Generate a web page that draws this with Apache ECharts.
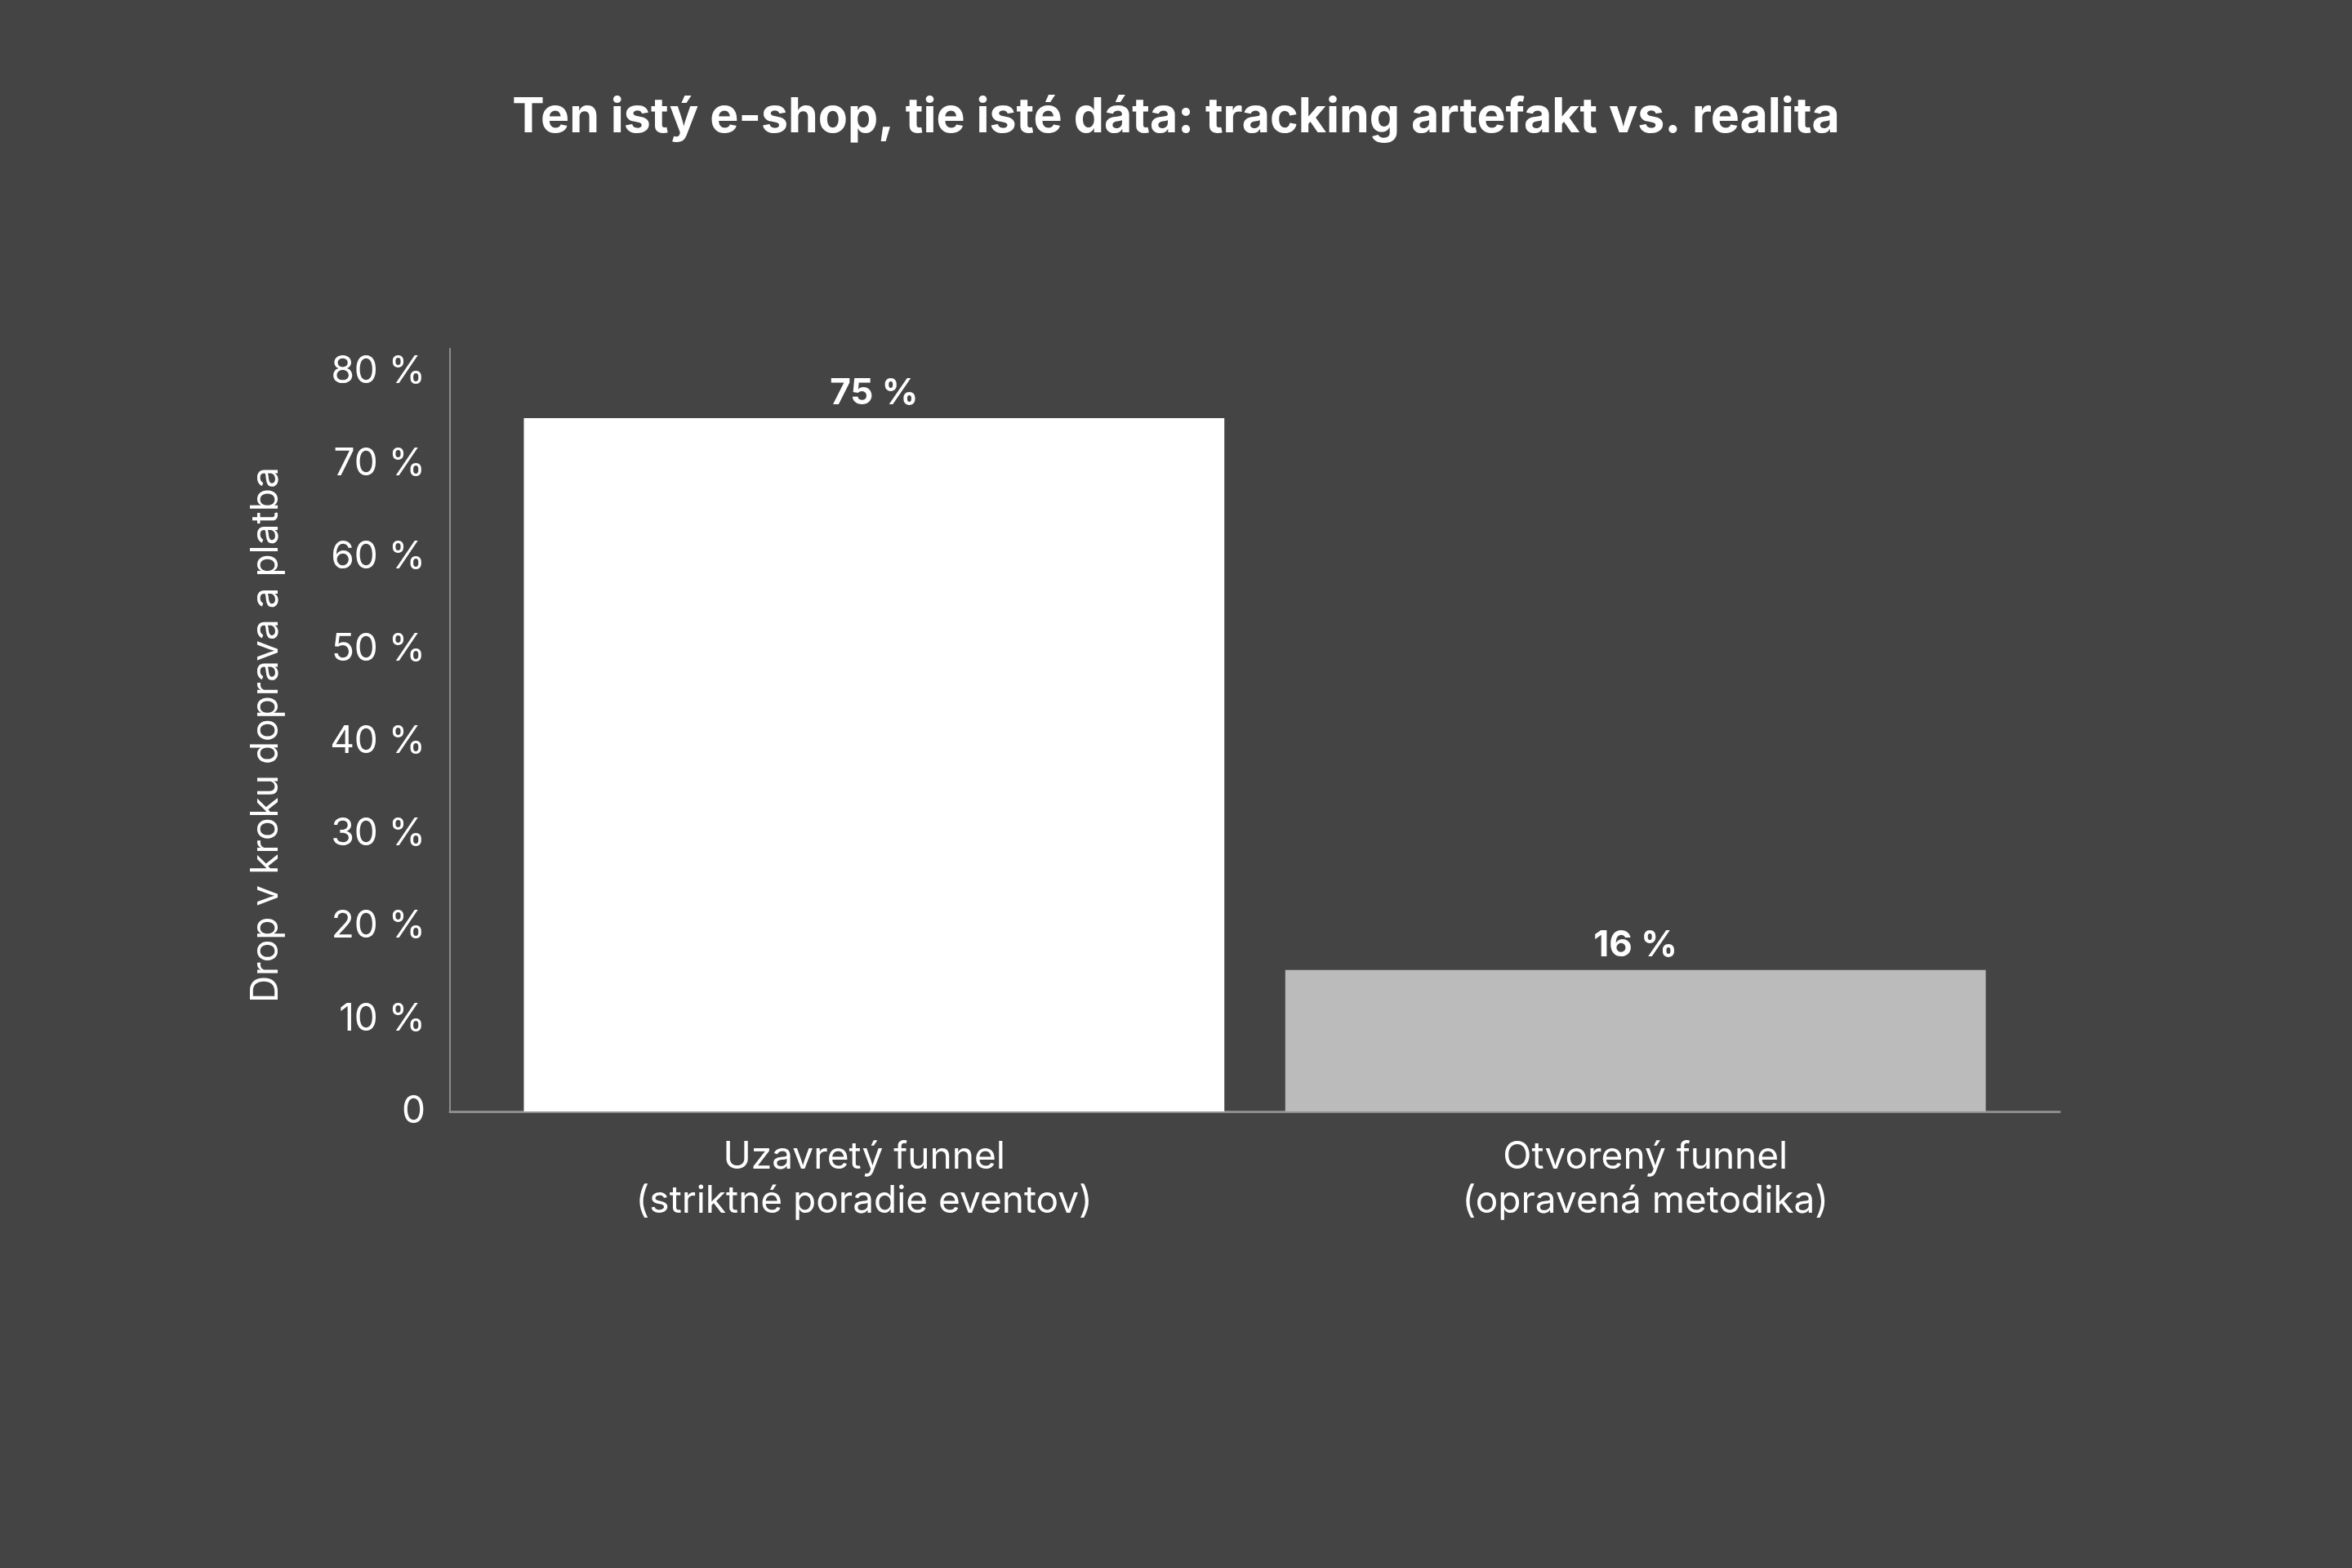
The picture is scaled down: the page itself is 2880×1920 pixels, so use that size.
<!DOCTYPE html>
<html>
<head>
<meta charset="utf-8">
<script src="https://cdn.jsdelivr.net/npm/echarts@6/dist/echarts.min.js"></script>
<style>
html,body{margin:0;padding:0;background:#444444;}
#c{width:2880px;height:1920px;}
</style>
</head>
<body>
<div id="c"></div>
<script>
const titleText = 'Ten istý e-shop, tie isté dáta: tracking artefakt vs. realita';
const yAxisName = 'Drop v kroku doprava a platba';
const categories = ['Uzavretý funnel\n(striktné poradie eventov)', 'Otvorený funnel\n(opravená metodika)'];
const values = [75, 15.3];
const valueLabels = ['75 %', '16 %'];
const barColors = ['#ffffff', '#bbbbbb'];
const yMin = 0, yMax = 82.5, yStep = 10;
const xMin = -0.557, xMax = 1.557;

const FONT = 'Inter, "Noto Sans", sans-serif';
const labelSpread = 0.013;
const chart = echarts.init(document.getElementById('c'), null, {renderer: 'canvas'});
chart.setOption({
  backgroundColor: '#444444',
  animation: false,
  title: {
    text: titleText,
    left: 'center',
    top: 110,
    textStyle: {color: '#ffffff', fontSize: 59, fontWeight: 'bold', fontFamily: FONT}
  },
  grid: {left: 551, right: 358, top: 427, bottom: 559, containLabel: false},
  xAxis: {
    type: 'value',
    min: xMin,
    max: xMax,
    axisLine: {show: true, onZero: false, lineStyle: {color: '#8c8c8c', width: 3}},
    axisTick: {show: false},
    splitLine: {show: false},
    axisLabel: {
      customValues: categories.map((c, i) => i + (i === 0 ? -labelSpread : labelSpread)),
      color: '#ffffff',
      fontSize: 46,
      lineHeight: 54,
      fontFamily: FONT,
      margin: 29,
      formatter: v => categories[Math.round(v)] || ''
    }
  },
  yAxis: {
    type: 'value',
    min: yMin,
    max: yMax,
    interval: yStep,
    name: yAxisName,
    nameLocation: 'middle',
    nameGap: 202,
    nameTextStyle: {color: '#ffffff', fontSize: 46, fontFamily: FONT, padding: [0, 12, 0, 0]},
    axisLine: {show: true, onZero: false, lineStyle: {color: '#8c8c8c', width: 2}},
    axisTick: {show: false},
    splitLine: {show: false},
    axisLabel: {
      color: '#ffffff',
      fontSize: 46,
      fontFamily: FONT,
      margin: 30,
      formatter: v => (Math.abs(v % yStep) > 1e-9) ? '' : (v === 0 ? '0' : v + ' %')
    }
  },
  series: [{
    type: 'bar',
    barWidth: '92%',
    data: values.map((v, i) => ({value: [i, v], itemStyle: {color: barColors[i]}})),
    label: {
      show: true,
      position: 'top',
      distance: 8,
      color: '#ffffff',
      fontSize: 44,
      fontWeight: 'bold',
      fontFamily: FONT,
      formatter: p => valueLabels[p.dataIndex]
    }
  }]
});
</script>
</body>
</html>
